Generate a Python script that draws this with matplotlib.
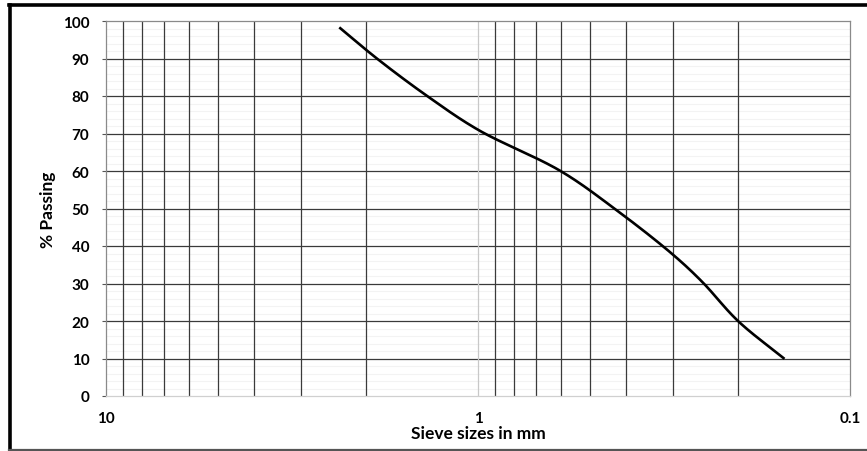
import numpy as np
import matplotlib
matplotlib.use("Agg")
import matplotlib.pyplot as plt
from matplotlib.lines import Line2D
from matplotlib.ticker import FixedLocator, NullFormatter

plt.rcParams['font.family'] = ['Lato', 'DejaVu Sans']

# Data (sieve size in mm, % passing)
sieve_mm = [2.36, 1.87, 1.37, 1.0, 0.6, 0.43, 0.3, 0.25, 0.2, 0.15]
passing = [98.3, 90.0, 80.0, 71.0, 60.0, 50.0, 37.8, 30.5, 20.0, 9.9]
x_ticks = [10, 1, 0.1]
x_tick_labels = ["10", "1", "0.1"]
y_ticks = [0, 10, 20, 30, 40, 50, 60, 70, 80, 90, 100]


def smooth(xs, ys, n=40, alpha=0.5):
    """Centripetal Catmull-Rom smoothing in (log x, y) display-like space."""
    lx = np.log10(np.asarray(xs, float)) * 372.0
    y = np.asarray(ys, float) * 3.75
    P = np.column_stack([lx, y])
    P = np.vstack([2 * P[0] - P[1], P, 2 * P[-1] - P[-2]])
    out = []
    for i in range(1, len(P) - 2):
        p0, p1, p2, p3 = P[i - 1], P[i], P[i + 1], P[i + 2]
        t0 = 0.0
        t1 = t0 + np.linalg.norm(p1 - p0) ** alpha
        t2 = t1 + np.linalg.norm(p2 - p1) ** alpha
        t3 = t2 + np.linalg.norm(p3 - p2) ** alpha
        t = np.linspace(t1, t2, n)[:, None]
        a1 = (t1 - t) / (t1 - t0) * p0 + (t - t0) / (t1 - t0) * p1
        a2 = (t2 - t) / (t2 - t1) * p1 + (t - t1) / (t2 - t1) * p2
        a3 = (t3 - t) / (t3 - t2) * p2 + (t - t2) / (t3 - t2) * p3
        b1 = (t2 - t) / (t2 - t0) * a1 + (t - t0) / (t2 - t0) * a2
        b2 = (t3 - t) / (t3 - t1) * a2 + (t - t1) / (t3 - t1) * a3
        c = (t2 - t) / (t2 - t1) * b1 + (t - t1) / (t2 - t1) * b2
        out.append(c if i == 1 else c[1:])
    out = np.vstack(out)
    return 10 ** (out[:, 0] / 372.0), out[:, 1] / 3.75


fig = plt.figure(figsize=(8.67, 4.52), dpi=100)
ax = fig.add_axes([106 / 867, 55 / 452, 744 / 867, 375 / 452])

ax.set_xscale('log')
ax.set_xlim(10, 0.1)
ax.set_ylim(0, 100)

# Grid
minor_x = [m * 10.0 ** e for e in (0, -1) for m in range(2, 10)]
ax.xaxis.set_minor_locator(FixedLocator(minor_x))
ax.xaxis.set_minor_formatter(NullFormatter())
ax.set_xticks(x_ticks)
ax.set_xticklabels(x_tick_labels)
ax.set_yticks(y_ticks)
ax.yaxis.set_minor_locator(FixedLocator(np.arange(0, 101, 2)))

for yv in np.arange(2, 100, 2):
    if yv % 10:
        ax.axhline(yv, color='#f3f3f3', lw=0.8, zorder=0)
for yv in y_ticks[1:-1]:
    ax.axhline(yv, color='#3a3a3a', lw=0.9, zorder=1)
for xv in minor_x:
    ax.axvline(xv, color='#3a3a3a', lw=0.9, zorder=1)
ax.axvline(1, color='#c8c8c8', lw=0.9, zorder=1)

for s in ax.spines.values():
    s.set_color('#8a8a8a')
    s.set_linewidth(0.9)
ax.spines['bottom'].set_color('#d0d0d0')

ax.tick_params(axis='x', which='both', length=0, pad=11, labelsize=11)
ax.tick_params(axis='y', which='major', length=3, width=0.8, color='#555555', pad=9, labelsize=11)
ax.tick_params(axis='y', which='minor', length=0)
for lab in ax.get_xticklabels() + ax.get_yticklabels():
    lab.set_fontweight('bold')

# Curve
sx, sy = smooth(sieve_mm, passing)
ax.plot(sx, sy, color='black', lw=1.9, zorder=3, solid_capstyle='butt')

ax.set_xlabel('Sieve sizes in mm', fontsize=12.5, fontweight='bold', labelpad=0)
ax.set_ylabel('% Passing', fontsize=12.5, fontweight='bold', labelpad=5)

# Outer frame
fig.add_artist(Line2D([9.5 / 867, 9.5 / 867], [1.5 / 452, 446 / 452], transform=fig.transFigure,
                      color='black', lw=2.6))
fig.add_artist(Line2D([8.5 / 867, 1.0], [446 / 452, 446 / 452], transform=fig.transFigure,
                      color='black', lw=2.6))
fig.add_artist(Line2D([8.5 / 867, 1.0], [1.5 / 452, 1.5 / 452], transform=fig.transFigure,
                      color='#555555', lw=1.6))

fig.savefig('out.png', dpi=100)
